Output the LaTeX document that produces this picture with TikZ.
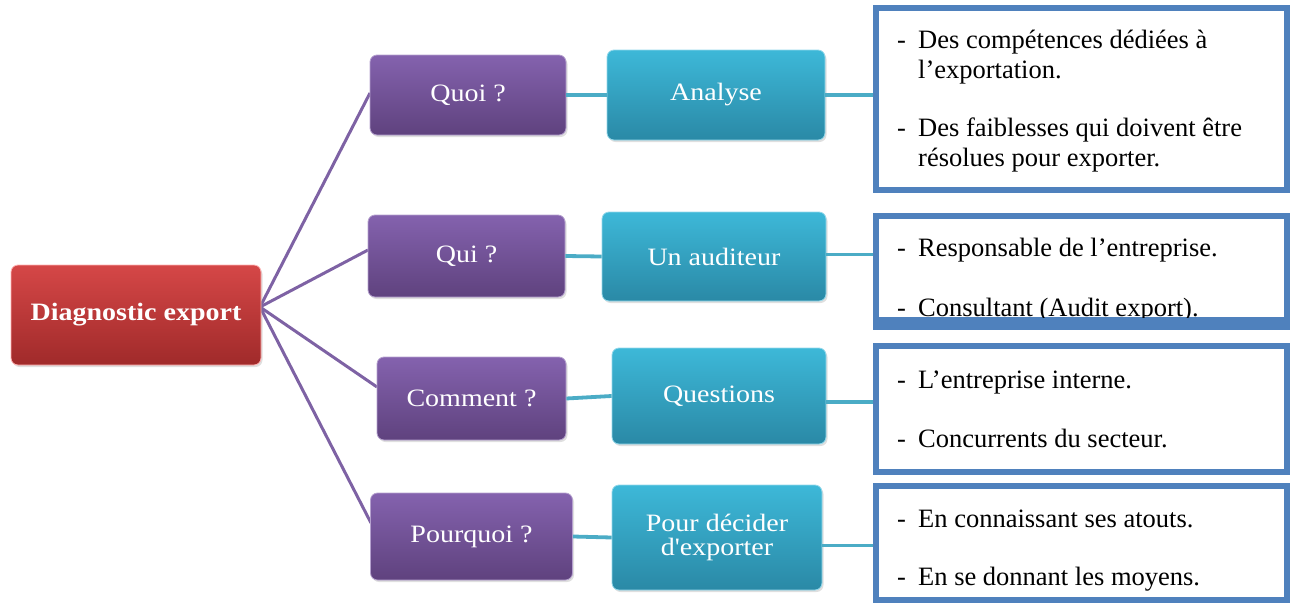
\documentclass[tikz,border=0pt]{standalone}
\usepackage{fontspec}
\setmainfont{Liberation Serif}
\newfontfamily\boxfont{Liberation Serif}[FakeStretch=1.12]
\usetikzlibrary{shadows}
\definecolor{purpT}{HTML}{8462AE}
\definecolor{purpB}{HTML}{5F427E}
\definecolor{tealT}{HTML}{3DB8D8}
\definecolor{tealB}{HTML}{2A89A6}
\definecolor{redT}{HTML}{D54747}
\definecolor{redB}{HTML}{A02A2A}
\definecolor{purpLine}{HTML}{7E62A4}
\definecolor{tealLine}{HTML}{4BACC6}
\definecolor{boxBlue}{HTML}{4F81BD}
\newcommand{\itm}{\makebox[21pt][l]{-}}
\tikzset{
  gbox/.style={rounded corners=7pt, text=white, align=center, inner sep=2pt,
    font=\boxfont\fontsize{25}{27}\selectfont, drop shadow={opacity=0.25, shadow xshift=1.5pt, shadow yshift=-2pt}},
  redbox/.style={gbox, top color=redT, bottom color=redB, draw=red!30!white, line width=0.8pt},
  purpbox/.style={gbox, top color=purpT, bottom color=purpB, draw=purpT!60!white, line width=0.8pt},
  tealbox/.style={gbox, top color=tealT, bottom color=tealB, draw=tealT!55!white, line width=0.8pt},
  infobox/.style={draw=boxBlue, line width=6pt, fill=white, inner sep=0pt},
  itemtxt/.style={anchor=base west, font=\fontsize{26.5}{29}\selectfont, text=black, inner sep=0pt},
  pline/.style={draw=purpLine, line width=3pt},
  tline/.style={draw=tealLine, line width=3.8pt},
}
\begin{document}
\begin{tikzpicture}[x=1pt,y=-1pt]
\useasboundingbox (0,0) rectangle (1294,605);

% connectors (behind)
\coordinate (hub) at (260,307);
\coordinate (qoE) at (370,93);
\coordinate (quE) at (368,250);
\coordinate (coE) at (377,387);
\coordinate (poE) at (371,523);
\draw[pline] (hub) -- (qoE);
\draw[pline] (hub) -- (quE);
\draw[pline] (hub) -- (coE);
\draw[pline] (hub) -- (poE);

% info boxes
\node[infobox, minimum width=411pt, minimum height=182pt] (b1) at (1081.5,99) {};
\node[infobox, minimum width=411pt, minimum height=111pt] (b2) at (1081.5,271.5) {};
\fill[boxBlue] (873,317) rectangle (1290,330);
\node[infobox, minimum width=411pt, minimum height=126pt] (b3) at (1081.5,409) {};
\node[infobox, minimum width=411pt, minimum height=114pt] (b4) at (1081.5,543) {};

% main nodes
\node[redbox, minimum width=250pt, minimum height=100pt] (diag) at (136,315)
  {\bfseries Diagnostic export};
\node[purpbox, minimum width=196pt, minimum height=80pt] (quoi) at (468,95) {Quoi ?};
\node[purpbox, minimum width=197pt, minimum height=82pt] (qui) at (466.5,256) {Qui ?};
\node[purpbox, minimum width=189pt, minimum height=83pt] (comment) at (471.5,398.5) {Comment ?};
\node[purpbox, minimum width=202pt, minimum height=87pt] (pourquoi) at (471.5,536.5) {Pourquoi ?};

\node[tealbox, minimum width=218pt, minimum height=90pt] (analyse) at (716,95) {Analyse};
\node[tealbox, minimum width=224pt, minimum height=89pt] (auditeur) at (714,256.5) {Un auditeur};
\node[tealbox, minimum width=214pt, minimum height=96pt] (questions) at (719,396) {Questions};
\node[tealbox, minimum width=210pt, minimum height=105pt] (decider) at (717,537.5) {Pour décider\\[-3pt]d'exporter};

% teal connectors
\draw[tline] (quoi.east) -- (analyse.west);
\draw[tline] (qui.east) -- (auditeur.west);
\draw[tline] (comment.east) -- (questions.west);
\draw[tline] (pourquoi.east) -- (decider.west);
\draw[tline] (analyse.east) -- (analyse.east -| b1.west);
\draw[tline] ([yshift=2pt]auditeur.east) -- ([yshift=2pt]auditeur.east -| b2.west);
\draw[tline] ([yshift=-6pt]questions.east) -- ([yshift=-6pt]questions.east -| b3.west);
\draw[tline] ([yshift=-8pt]decider.east) -- ([yshift=-8pt]decider.east -| b4.west);

% texts in info boxes
\node[itemtxt] (t1a) at (897,48) {\itm Des compétences dédiées à};
\node[itemtxt] (t1b) at (918,78) {l’exportation.};
\node[itemtxt] (t1c) at (897,136) {\itm Des faiblesses qui doivent être};
\node[itemtxt] (t1d) at (918,166) {résolues pour exporter.};

\node[itemtxt] (t2a) at (897,256) {\itm Responsable de l’entreprise.};
\begin{scope}
\clip (879,219) rectangle (1284,317);
\node[itemtxt] (t2b) at (897,316) {\itm Consultant (Audit export).};
\end{scope}

\node[itemtxt] (t3a) at (897,388) {\itm L’entreprise interne.};
\node[itemtxt] (t3b) at (897,447) {\itm Concurrents du secteur.};

\node[itemtxt] (t4a) at (897,527) {\itm En connaissant ses atouts.};
\node[itemtxt] (t4b) at (897,585) {\itm En se donnant les moyens.};
\end{tikzpicture}
\end{document}
